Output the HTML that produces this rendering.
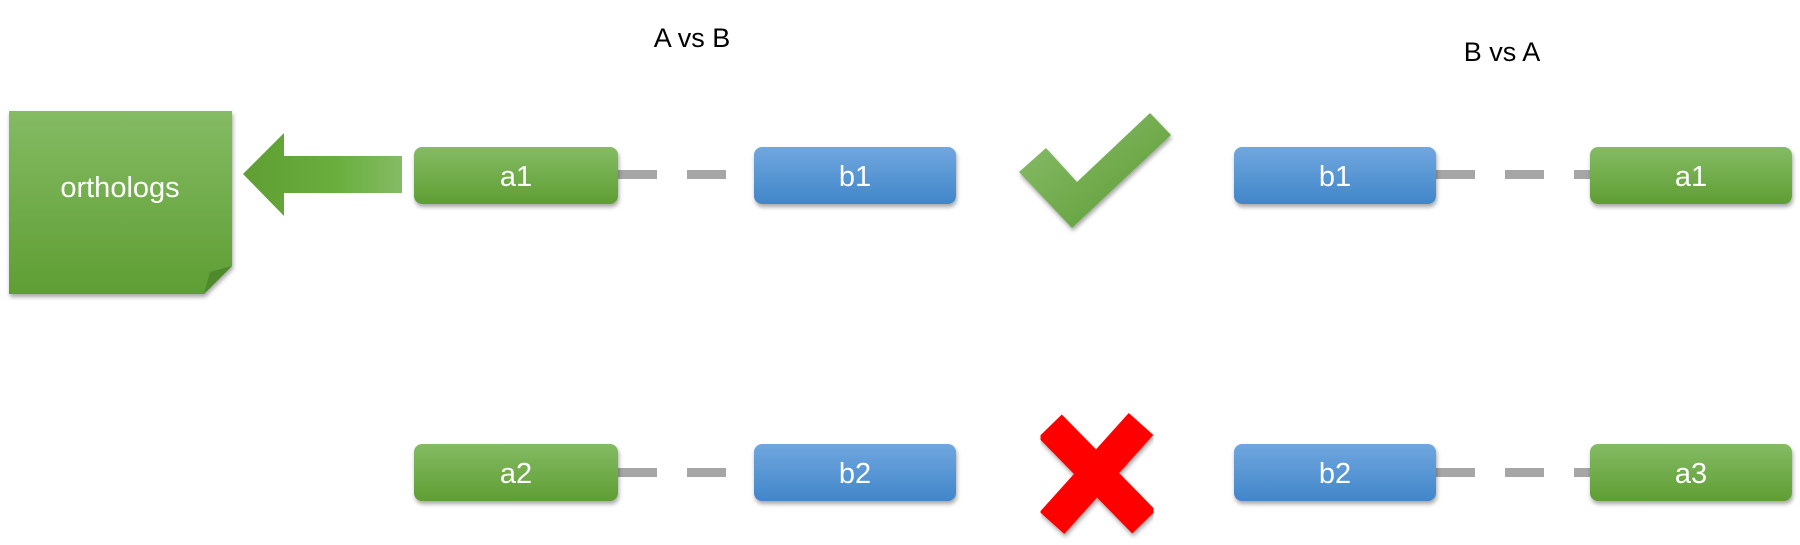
<!DOCTYPE html>
<html><head><meta charset="utf-8"><style>
html,body{margin:0;padding:0;background:#fff;}
svg{display:block;}
text{font-family:"Liberation Sans",sans-serif;}
</style></head><body>
<svg width="1800" height="545" viewBox="0 0 1800 545" xmlns="http://www.w3.org/2000/svg">
<defs>
<linearGradient id="g" x1="0" y1="0" x2="0" y2="1"><stop offset="0" stop-color="#84bb64"/><stop offset="1" stop-color="#5f9e33"/></linearGradient>
<linearGradient id="b" x1="0" y1="0" x2="0" y2="1"><stop offset="0" stop-color="#70a7df"/><stop offset="1" stop-color="#4186c9"/></linearGradient>
<linearGradient id="ar" x1="0" y1="0" x2="1" y2="0"><stop offset="0" stop-color="#5f9e33"/><stop offset="0.6" stop-color="#6aaf3e"/><stop offset="1" stop-color="#86bb66"/></linearGradient>
<linearGradient id="ck" x1="0" y1="0" x2="1" y2="1"><stop offset="0" stop-color="#8cc070"/><stop offset="1" stop-color="#5a9a30"/></linearGradient>
<filter id="sh" x="-10%" y="-20%" width="120%" height="150%"><feDropShadow dx="1" dy="3" stdDeviation="2" flood-color="#000" flood-opacity="0.35"/></filter>
</defs>
<text x="692" y="47" font-size="27" text-anchor="middle" fill="#000">A vs B</text>
<text x="1502" y="61" font-size="27" text-anchor="middle" fill="#000">B vs A</text>
<path d="M9 111 H232 V266 L204 294 H9 Z" fill="url(#g)" filter="url(#sh)"/>
<path d="M232 266 L204 294 L210 272 Z" fill="#4e8a2a"/>
<text x="120" y="197" font-size="29" text-anchor="middle" fill="#fff">orthologs</text>
<path d="M243 174 L284 133 V156 H402 V193 H284 V216 Z" fill="url(#ar)"/>
<g fill="#a6a6a6">
<rect x="618" y="170" width="39" height="9"/><rect x="687" y="170" width="39" height="9"/>
<rect x="618" y="468" width="39" height="9"/><rect x="687" y="468" width="39" height="9"/>
<rect x="1436" y="170" width="39" height="9"/><rect x="1505" y="170" width="39" height="9"/><rect x="1574" y="170" width="16" height="9"/>
<rect x="1436" y="468" width="39" height="9"/><rect x="1505" y="468" width="39" height="9"/><rect x="1574" y="468" width="16" height="9"/>
</g>
<g filter="url(#sh)">
<rect x="414" y="147" width="204" height="57" rx="8" fill="url(#g)"/>
<rect x="754" y="147" width="202" height="57" rx="8" fill="url(#b)"/>
<rect x="414" y="444" width="204" height="57" rx="8" fill="url(#g)"/>
<rect x="754" y="444" width="202" height="57" rx="8" fill="url(#b)"/>
<rect x="1234" y="147" width="202" height="57" rx="8" fill="url(#b)"/>
<rect x="1590" y="147" width="202" height="57" rx="8" fill="url(#g)"/>
<rect x="1234" y="444" width="202" height="57" rx="8" fill="url(#b)"/>
<rect x="1590" y="444" width="202" height="57" rx="8" fill="url(#g)"/>
</g>
<g font-size="29" fill="#fff" text-anchor="middle">
<text x="516" y="186">a1</text><text x="855" y="186">b1</text>
<text x="516" y="483">a2</text><text x="855" y="483">b2</text>
<text x="1335" y="186">b1</text><text x="1691" y="186">a1</text>
<text x="1335" y="483">b2</text><text x="1691" y="483">a3</text>
</g>
<path d="M1019 172 L1046 148 L1077 182 L1150 113 L1171 135 L1072 228 Z" fill="url(#ck)" filter="url(#sh)"/>
<g stroke="#ff0000" stroke-width="33" filter="url(#sh)">
<line x1="1050" y1="426" x2="1144" y2="522"/>
<line x1="1141" y1="424" x2="1052" y2="523"/>
</g>
</svg>
</body></html>
